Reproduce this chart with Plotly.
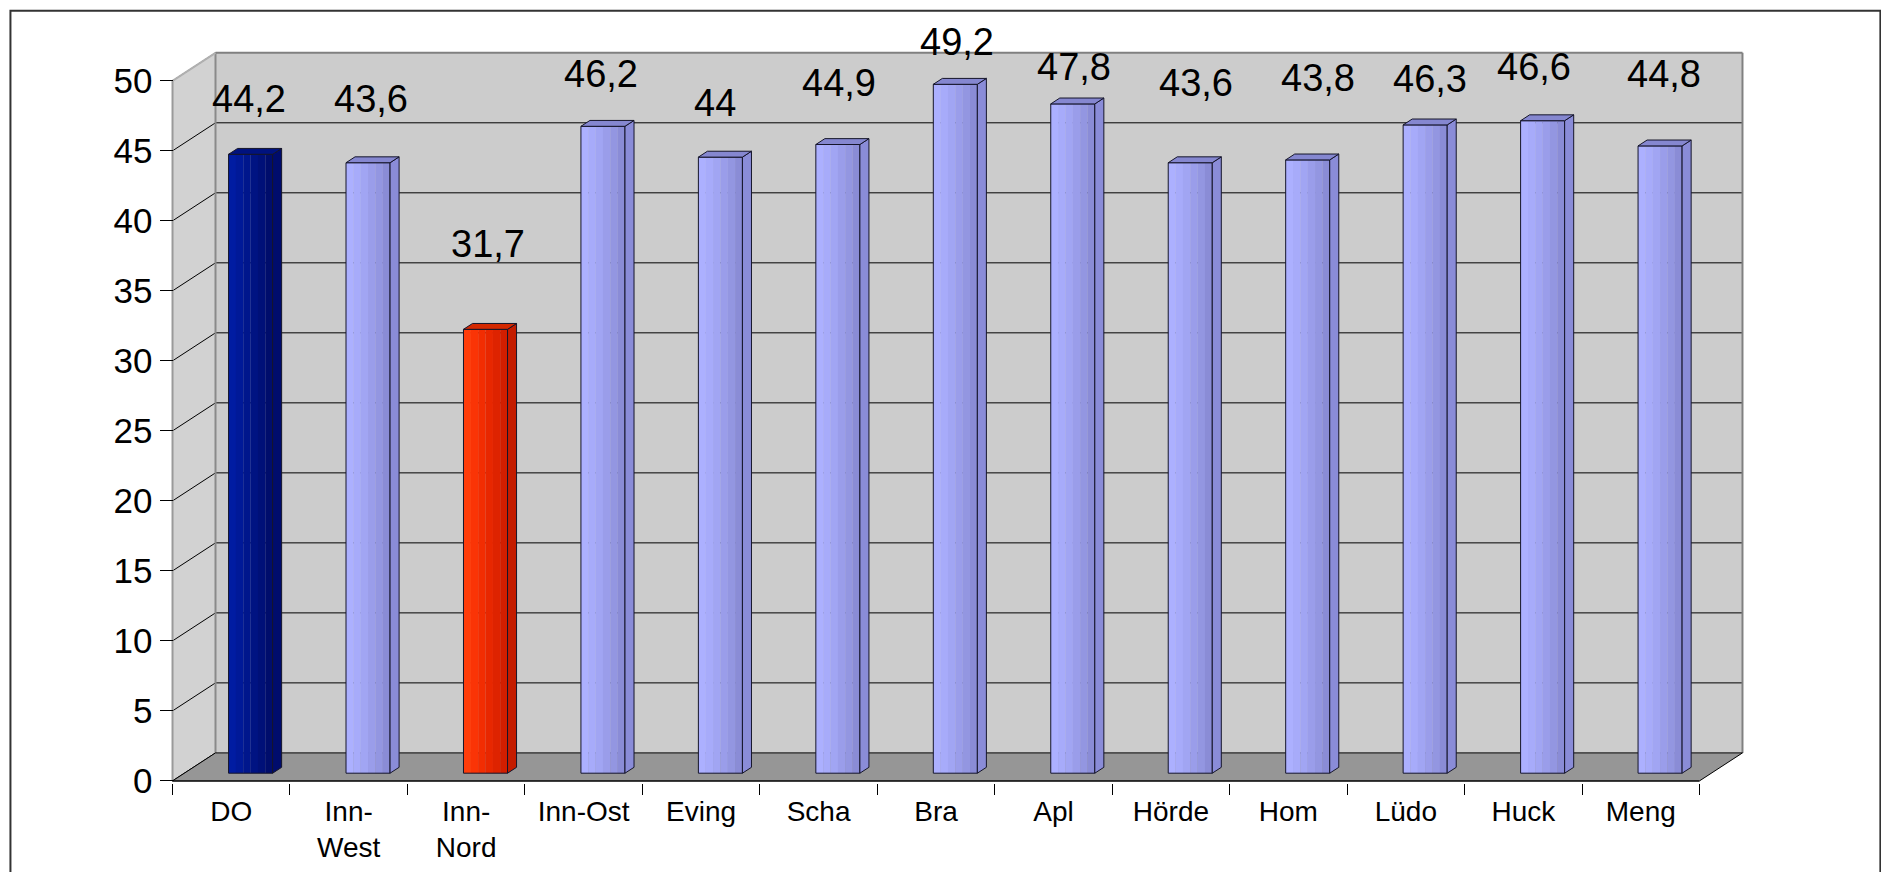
import plotly.graph_objects as go

# ---------------- data ----------------
categories = ["DO", "Inn-West", "Inn-Nord", "Inn-Ost", "Eving", "Scha", "Bra",
              "Apl", "Hörde", "Hom", "Lüdo", "Huck", "Meng"]
tick_labels = ["DO", "Inn-<br>West", "Inn-<br>Nord", "Inn-Ost", "Eving", "Scha", "Bra",
               "Apl", "Hörde", "Hom", "Lüdo", "Huck", "Meng"]
values = [44.2, 43.6, 31.7, 46.2, 44.0, 44.9, 49.2, 47.8, 43.6, 43.8, 46.3, 46.6, 44.8]
bar_kind = ["total", "district", "focus", "district", "district", "district", "district",
            "district", "district", "district", "district", "district", "district"]
y_ticks = [0, 5, 10, 15, 20, 25, 30, 35, 40, 45, 50]

# label placement (pixels, style only)
label_lift = [55.5, 64, 85.5, 52.5, 54, 61.4, 42, 37.4, 79.6, 82, 46.4, 54.2, 72]
label_xshift = [-1.8, 2.6, 3, -2.2, -5.6, 1.5, 1.6, 1.2, 5.6, 9.9, 5, -9.1, 4.2]

# ---------------- styles ----------------
FONT = "Liberation Sans, Arial, sans-serif"
strip_colors = {
    "district": ["#acb0ff", "#a7abfa", "#a1a5f3", "#9a9dea", "#9396e1", "#8a8cd6"],
    "total": ["#001ca2", "#001998", "#00168c", "#001382", "#001078", "#000d6c"],
    "focus": ["#ff3c0a", "#fa3406", "#f22d02", "#e82700", "#de2300", "#d21e00"],
}
side_colors = {"district": "#8a8cd8", "total": "#000c6c", "focus": "#c41c00"}
top_colors = {"district": "#8587d0", "total": "#00127e", "focus": "#d42800"}
edge_color = "#15152a"

# ---------------- geometry ----------------
N = len(categories)
DEPTH_X, DEPTH_Y = 0.366, 2.0      # projection of the chart depth (x in categories, y in units)
YMAX = y_ticks[-1]
X0, X1 = -0.5, N - 0.5
BASE = 0.55                        # bars stand a little inside the floor
BAR_W = 0.375
BAR_OFF = -0.023
BAR_DX, BAR_DY = 0.077, 0.42       # bar depth projection
NS = len(strip_colors["district"])

W, H = 1881, 872
FRONT_LEFT_PX, ZERO_PX = 173.0, 781.0
PX_X, PX_Y = 117.4, 14.0
xr = [X0 - 0.03, X1 + DEPTH_X + 0.03]
yr = [-0.15, YMAX + DEPTH_Y + 0.2]
m_l = FRONT_LEFT_PX - (X0 - xr[0]) * PX_X
m_r = W - m_l - (xr[1] - xr[0]) * PX_X
m_b = H - (ZERO_PX + (0 - yr[0]) * PX_Y)
m_t = H - m_b - (yr[1] - yr[0]) * PX_Y
yaxis_pos = (X0 - xr[0]) / (xr[1] - xr[0])

fig = go.Figure()
shapes = []


def path_of(xs, ys):
    return "M " + " L ".join(f"{x},{y}" for x, y in zip(xs, ys)) + " Z"


def shape_poly(xs, ys, fill):
    shapes.append(dict(type="path", xref="x", yref="y", path=path_of(xs, ys),
                       fillcolor=fill, line=dict(width=0), layer="below"))


def shape_line(x0, y0, x1, y1, color, width=1):
    shapes.append(dict(type="line", xref="x", yref="y", x0=x0, y0=y0, x1=x1, y1=y1,
                       line=dict(color=color, width=width), layer="below"))


def poly(xs, ys, fill, line_color=None, width=0):
    fig.add_trace(go.Scatter(x=xs, y=ys, mode="lines", fill="toself", fillcolor=fill,
                             line=dict(color=line_color or fill, width=width),
                             hoverinfo="skip", showlegend=False))


# walls
shape_poly([X0, X0, X0 + DEPTH_X, X0 + DEPTH_X], [0, YMAX, YMAX + DEPTH_Y, DEPTH_Y], "#d2d2d2")
shape_poly([X0 + DEPTH_X, X1 + DEPTH_X, X1 + DEPTH_X, X0 + DEPTH_X],
           [DEPTH_Y, DEPTH_Y, YMAX + DEPTH_Y, YMAX + DEPTH_Y], "#cccccc")

# gridlines on back wall and side wall
for k in y_ticks:
    if 0 < k < YMAX:
        shape_line(X0 + DEPTH_X, k + DEPTH_Y, X1 + DEPTH_X, k + DEPTH_Y, "#000000", 1)
    shape_line(X0, k, X0 + DEPTH_X, k + DEPTH_Y, "#000000", 1)

# wall outline
shape_line(X0 + DEPTH_X, DEPTH_Y, X0 + DEPTH_X, YMAX + DEPTH_Y, "#8a8a8a", 2)
shape_line(X0 + DEPTH_X, YMAX + DEPTH_Y, X1 + DEPTH_X, YMAX + DEPTH_Y, "#808080", 2)
shape_line(X1 + DEPTH_X, YMAX + DEPTH_Y, X1 + DEPTH_X, DEPTH_Y, "#808080", 2)
shape_line(X0, 0, X0, YMAX, "#9a9a9a", 2)
shape_line(X0, YMAX, X0 + DEPTH_X, YMAX + DEPTH_Y, "#b0b0b0", 2)

# floor
shape_poly([X0, X1, X1 + DEPTH_X, X0 + DEPTH_X], [0, 0, DEPTH_Y, DEPTH_Y], "#969696")
shape_line(X0 + DEPTH_X, DEPTH_Y, X1 + DEPTH_X, DEPTH_Y, "#000000", 1)
shape_line(X0, 0, X1, 0, "#000000", 1.5)
shape_line(X1, 0, X1 + DEPTH_X, DEPTH_Y, "#000000", 1)
shape_line(X0, 0, X0 + DEPTH_X, DEPTH_Y, "#000000", 1)

# bars: front face as shaded strips
pos = list(range(N))
sw = BAR_W / NS
for s in range(NS):
    fig.add_trace(go.Bar(x=pos, y=values, base=BASE, width=sw * 1.02, offset=BAR_OFF + s * sw,
                         marker=dict(color=[strip_colors[k][s] for k in bar_kind], line=dict(width=0)),
                         hoverinfo="skip", showlegend=False))
fig.add_trace(go.Bar(x=pos, y=values, base=BASE, width=BAR_W, offset=BAR_OFF,
                     marker=dict(color="rgba(0,0,0,0)", line=dict(color=edge_color, width=1)),
                     customdata=categories, hovertemplate="%{customdata}: %{y}<extra></extra>",
                     showlegend=False))

# side and top faces
for kind in ["total", "district", "focus"]:
    xs_side, ys_side, xs_top, ys_top = [], [], [], []
    for i, v in enumerate(values):
        if bar_kind[i] != kind:
            continue
        xl = i + BAR_OFF
        xrt = xl + BAR_W
        top = v + BASE
        xs_side += [xrt, xrt, xrt + BAR_DX, xrt + BAR_DX, xrt, None]
        ys_side += [BASE, top, top + BAR_DY, BASE + BAR_DY, BASE, None]
        xs_top += [xl, xrt, xrt + BAR_DX, xl + BAR_DX, xl, None]
        ys_top += [top, top, top + BAR_DY, top + BAR_DY, top, None]
    poly(xs_side, ys_side, side_colors[kind], edge_color, 1)
    poly(xs_top, ys_top, top_colors[kind], edge_color, 1)

# category axis carrier (invisible)
fig.add_trace(go.Scatter(x=tick_labels, y=values, xaxis="x2", mode="markers",
                         marker=dict(opacity=0, size=1), hoverinfo="skip", showlegend=False))

# value labels
for i, v in enumerate(values):
    txt = (f"{v:.1f}".rstrip("0").rstrip(".")).replace(".", ",")
    fig.add_annotation(x=i + BAR_OFF + BAR_W / 2, y=v + BASE, xref="x", yref="y",
                       text=txt, showarrow=False, xshift=label_xshift[i], yshift=label_lift[i],
                       font=dict(family=FONT, size=38, color="#000000"))

# outer frame
fx0 = (11 - m_l) / (W - m_l - m_r)
fx1 = (1880 - m_l) / (W - m_l - m_r)
fy1 = (H - m_b - 11) / (H - m_b - m_t)
fy0 = (H - m_b - 900) / (H - m_b - m_t)
shapes.append(dict(type="rect", xref="paper", yref="paper", x0=fx0, x1=fx1, y0=fy0, y1=fy1,
                   line=dict(color="#333333", width=2), layer="above"))

fig.update_layout(
    width=W, height=H,
    margin=dict(l=m_l, r=m_r, t=m_t, b=m_b, pad=0, autoexpand=False),
    paper_bgcolor="#ffffff", plot_bgcolor="rgba(0,0,0,0)",
    barmode="overlay", showlegend=False, shapes=shapes,
    font=dict(family=FONT, color="#000000"),
    xaxis=dict(range=xr, visible=False, fixedrange=True, automargin=False),
    xaxis2=dict(type="category", categoryorder="array", categoryarray=tick_labels,
                overlaying="x", anchor="y", side="bottom", range=xr,
                tickson="boundaries", ticks="outside", ticklen=11, tickwidth=1,
                tickcolor="#000000", showgrid=False, showline=False, zeroline=False,
                ticklabelstandoff=9, automargin=False,
                tickfont=dict(family=FONT, size=28, color="#000000"), fixedrange=True),
    yaxis=dict(range=yr, anchor="free", position=yaxis_pos, tickmode="array", tickvals=y_ticks,
               ticks="outside", ticklen=13, tickwidth=1, tickcolor="#000000",
               showgrid=False, showline=False, zeroline=False, automargin=False,
               tickfont=dict(family=FONT, size=35, color="#000000"), fixedrange=True),
)

fig.write_html("out.html", post_script="document.body.style.margin='0';",
               config={"displayModeBar": False})
